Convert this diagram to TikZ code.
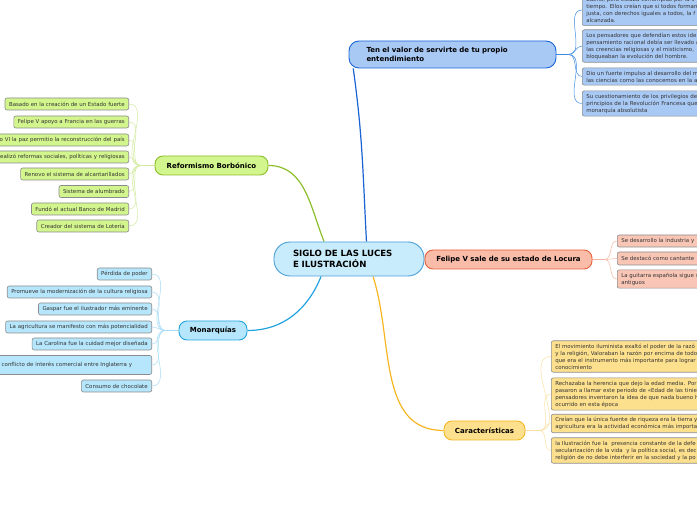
\documentclass[tikz,border=0pt]{standalone}
\usepackage{fontspec}
\setmainfont{DejaVu Sans}
\usepackage{tikz}
\usetikzlibrary{positioning,backgrounds,calc}
\usepackage{xcolor}

\definecolor{lucesfill}{HTML}{C8ECFB}
\definecolor{lucesline}{HTML}{4A9FD8}
\definecolor{tenfill}{HTML}{A9C9F5}
\definecolor{tenline}{HTML}{1A63D4}
\definecolor{tenfan}{HTML}{3F8AE0}
\definecolor{felfill}{HTML}{F8BCA9}
\definecolor{felline}{HTML}{E8603C}
\definecolor{felfan}{HTML}{F5B5A0}
\definecolor{carfill}{HTML}{FDE08E}
\definecolor{carline}{HTML}{F5B621}
\definecolor{carfan}{HTML}{FBE0A0}
\definecolor{reffill}{HTML}{D3F58D}
\definecolor{refline}{HTML}{8CBE2A}
\definecolor{reffan}{HTML}{D2EAA0}
\definecolor{monfill}{HTML}{B5E6FB}
\definecolor{monline}{HTML}{22A3E0}
\definecolor{monfan}{HTML}{A6DCF6}

\begin{document}
\begin{tikzpicture}[
    x=1pt,
    y=1pt,
    central/.style={draw=lucesline,fill=lucesfill,line width=0.9pt,rounded corners=16pt,minimum width=150pt,minimum height=34pt,text width=112pt,align=left,font=\fontsize{8.6}{11}\selectfont\bfseries},
    branch/.style={line width=0.9pt,rounded corners=8pt,minimum height=19pt,inner xsep=0pt,align=center,font=\fontsize{7}{9}\selectfont\bfseries},
    leaf/.style={draw=black!45,line width=0.6pt,rounded corners=2pt,inner xsep=4pt,inner ysep=3pt,minimum height=12pt,text=black!80,font=\fontsize{5.45}{7}\selectfont},
    leftleaf/.style={leaf,anchor=east},
    rightleaf/.style={leaf,anchor=west,text width=200pt,align=left},
    widetext/.style={text width=150pt,align=right},
    link/.style={line width=1.2pt},
    fan/.style={line width=0.5pt}
  ]
    \useasboundingbox (0,0) rectangle (697,520);
    \clip (0,0) rectangle (697,520);

    \node[central] (siglo) at (349,261) {SIGLO DE LAS LUCES\\E ILUSTRACIÓN};

    % branches
    \node[branch,draw=tenline,fill=tenfill,rounded corners=10pt,minimum width=207pt,minimum height=27pt,text width=172pt,align=left] (ten) at (452.5,465.5) {Ten el valor de servirte de tu propio\\entendimiento};
    \node[branch,draw=felline,fill=felfill,minimum width=167pt] (felipe) at (508.5,260.5) {Felipe V sale de su estado de Locura};
    \node[branch,draw=carline,fill=carfill,minimum width=81pt] (carac) at (484.5,89.5) {Características};
    \node[branch,draw=refline,fill=reffill,minimum width=113pt] (reform) at (211.5,354.5) {Reformismo Borbónico};
    \node[branch,draw=monline,fill=monfill,minimum width=68pt] (monar) at (213,189.5) {Monarquías};

    % Ten el valor
    \node[rightleaf,fill=tenfill] (ten1) at (582,510) {bueno, pero estaba corrompido por la s\\tiempo. Ellos creían que si todos forman\\justa, con derechos iguales a todos, la f\\alcanzada.};
    \node[rightleaf,fill=tenfill] (ten2) at (582,474) {Los pensadores que defendían estos ide\\pensamiento racional debía ser llevado a\\las creencias religiosas y el misticismo,\\bloqueaban la evolución del hombre.};
    \node[rightleaf,fill=tenfill] (ten3) at (582,443.5) {Dio un fuerte impulso al desarrollo del m\\las ciencias como las conocemos en la a};
    \node[rightleaf,fill=tenfill] (ten4) at (582,416.5) {Su cuestionamiento de los privilegios de\\principios de la Revolución Francesa que\\monarquía absolutista};

    % Felipe V
    \node[rightleaf,fill=felfill!85!white] (fel1) at (617,279) {Se desarrollo la industria y};
    \node[rightleaf,fill=felfill!85!white,minimum height=13pt] (fel2) at (617,261.5) {Se destacó como cantante};
    \node[rightleaf,fill=felfill!85!white] (fel3) at (617,241) {La guitarra española sigue s\\antiguos};

    % Caracteristicas
    \node[rightleaf,fill=carfill] (car1) at (551,163.5) {El movimiento iluminista exaltó el poder de la razó\\y la religión, Valoraban la razón por encima de todo\\que era el instrumento más importante para lograr\\conocimiento};
    \node[rightleaf,fill=carfill] (car2) at (551,126) {Rechazaba la herencia que dejo la edad media. Por\\pasaron a llamar este periodo de «Edad de las tinie\\pensadores inventaron la idea de que nada bueno h\\ocurrido en esta época};
    \node[rightleaf,fill=carfill] (car3) at (551,96.5) {Creían que la única fuente de riqueza era la tierra y\\agricultura era la actividad económica más importa};
    \node[rightleaf,fill=carfill] (car4) at (551,69.5) {la Ilustración fue la\ \ presencia constante de la defe\\secularización de la vida\ \ y la política social, es dec\\religión de no debe interferir en la sociedad y la po};

    % Reformismo
    \node[leftleaf,fill=reffill] (ref1) at (129,416) {Basado en la creación de un Estado fuerte};
    \node[leftleaf,fill=reffill] (ref2) at (129,398) {Felipe V apoyo a Francia en las guerras};
    \node[leftleaf,fill=reffill,widetext] (ref3) at (129,380) {o VI la paz permitio la reconstrucción del país};
    \node[leftleaf,fill=reffill,widetext] (ref4) at (129,363) {ealizó reformas sociales, políticas y religiosas};
    \node[leftleaf,fill=reffill] (ref5) at (129,346) {Renovo el sistema de alcantarillados};
    \node[leftleaf,fill=reffill] (ref6) at (129,328.5) {Sistema de alumbrado};
    \node[leftleaf,fill=reffill] (ref7) at (129,311) {Fundó el actual Banco de Madrid};
    \node[leftleaf,fill=reffill] (ref8) at (129,294) {Creador del sistema de Lotería};

    % Monarquias
    \node[leftleaf,fill=monfill] (mon1) at (152,246) {Pérdida de poder};
    \node[leftleaf,fill=monfill] (mon2) at (152,228) {Promueve la modernización de la cultura religiosa};
    \node[leftleaf,fill=monfill] (mon3) at (152,211) {Gaspar fue el ilustrador más eminente};
    \node[leftleaf,fill=monfill] (mon4) at (152,193) {La agricultura se manifesto con más potencialidad};
    \node[leftleaf,fill=monfill] (mon5) at (152,176) {La Carolina fue la cuidad mejor diseñada};
    \node[leftleaf,fill=monfill,text width=146pt,align=left,minimum height=19pt] (mon6) at (152,155) {conflicto de interés comercial entre Inglaterra y};
    \node[leftleaf,fill=monfill] (mon7) at (152,134) {Consumo de chocolate};

    \begin{scope}[on background layer]
      \draw[link,draw=tenline] (siglo.45) to[out=93,in=-82] (ten.188);
      \draw[link,draw=felline] (siglo.east) -- (felipe.west);
      \draw[link,draw=carline] (siglo.-36) to[out=-72,in=180] (carac.west);
      \draw[link,draw=refline] (siglo.145) to[out=112,in=0] (reform.east);
      \draw[link,draw=monline] (siglo.212) to[out=-112,in=0] (monar.east);

      \coordinate (tenfork) at ([xshift=12pt]ten.east);
      \coordinate (felfork) at ([xshift=12pt]felipe.east);
      \coordinate (carfork) at ([xshift=14pt]carac.east);
      \coordinate (reffork) at ([xshift=-14pt]reform.west);
      \coordinate (monfork) at ([xshift=-13pt]monar.west);

      \draw[fan,draw=tenfan,line width=0.8pt] (ten.east) -- (tenfork);
      \foreach \n in {1,...,4} {
        \draw[fan,draw=tenfan] (tenfork) to[out=0,in=180] (ten\n.west);
      }
      \draw[fan,draw=felfan,line width=1.2pt] (felipe.east) -- (felfork);
      \foreach \n in {1,...,3} {
        \draw[fan,draw=felfan] (felfork) to[out=0,in=180] (fel\n.west);
      }
      \draw[fan,draw=carfan,line width=1pt] (carac.east) -- (carfork);
      \foreach \n in {1,...,4} {
        \draw[fan,draw=carfan] (carfork) to[out=0,in=180] (car\n.west);
      }
      \draw[fan,draw=reffan,line width=1pt] (reform.west) -- (reffork);
      \foreach \n in {1,...,8} {
        \draw[fan,draw=reffan] (reffork) to[out=180,in=0] (ref\n.east);
      }
      \draw[fan,draw=monfan,line width=1pt] (monar.west) -- (monfork);
      \foreach \n in {1,...,7} {
        \draw[fan,draw=monfan] (monfork) to[out=180,in=0] (mon\n.east);
      }
    \end{scope}
  \end{tikzpicture}
\end{document}
